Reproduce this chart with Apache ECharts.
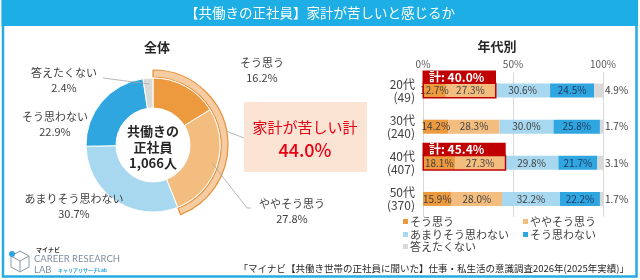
<!DOCTYPE html>
<html>
<head>
<meta charset="utf-8">
<script src="https://cdn.jsdelivr.net/npm/echarts@6/dist/echarts.min.js"></script>
<style>
html,body{margin:0;padding:0;background:#fff;}
#c{width:640px;height:280px;}
</style>
</head>
<body>
<div id="c"></div>
<script>
// ---- data ----
const pieNames = ['そう思う', 'ややそう思う', 'あまりそう思わない', 'そう思わない', '答えたくない'];
const pieValues = [16.2, 27.8, 30.7, 22.9, 2.4];
const totalRespondents = '1,066';
const ageCats = ['20代', '30代', '40代', '50代'];
const ageCounts = ['(49)', '(240)', '(407)', '(370)'];
const soOmou = [12.7, 14.2, 18.1, 15.9];
const yayaSoOmou = [27.3, 28.3, 27.3, 28.0];
const amariSoOmowanai = [30.6, 30.0, 29.8, 32.2];
const soOmowanai = [24.5, 25.8, 21.7, 22.2];
const kotaetakunai = [4.9, 1.7, 3.1, 1.7];
const xTicks = [0, 50, 100];
const highlightRows = ['20代', '40代'];

// ---- styles ----
const FONT = '"Noto Sans CJK JP", "Noto Sans", sans-serif';
const colors = ['#ED9A3E', '#F3BD80', '#A8D8EF', '#2FA6E0', '#D9D9D9'];
const labelColors = ['#404040', '#404040', '#404040', '#1F3B64', '#404040'];
const seriesVals = [soOmou, yayaSoOmou, amariSoOmowanai, soOmowanai, kotaetakunai];
const pieLabelPos = [[262, 70], [292, 211], [74, 206], [55, 124], [64, 80]];
const PC = [153, 145];

const chart = echarts.init(document.getElementById('c'), null, {renderer: 'canvas'});

const kakeiTotal = (pieValues[0] + pieValues[1]).toFixed(1);

const barSeries = seriesVals.map((vals, si) => ({
  type: 'bar',
  name: pieNames[si],
  stack: 'all',
  barWidth: 14,
  data: vals,
  itemStyle: {color: colors[si]},
  label: {
    show: true,
    position: si === 4 ? 'right' : 'inside',
    distance: 2,
    formatter: p => p.value.toFixed(1) + '%',
    color: labelColors[si],
    fontSize: 10,
    fontFamily: FONT
  },
  emphasis: {disabled: true},
  z: 2
}));

const hlData = highlightRows.map(r => {
  const i = ageCats.indexOf(r);
  return [Math.round((soOmou[i] + yayaSoOmou[i]) * 10) / 10, i];
});

const legendPos = [[403, 216], [523, 216], [403, 229], [523, 229], [403, 241]];

const option = {
  backgroundColor: '#ffffff',
  animation: false,
  textStyle: {fontFamily: FONT},
  legend: pieNames.map((n, i) => ({
    data: [n],
    left: legendPos[i][0],
    top: legendPos[i][1],
    padding: 0,
    icon: 'rect',
    itemWidth: 5,
    itemHeight: 5,
    itemGap: 2,
    selectedMode: false,
    textStyle: {fontSize: 11, color: '#404040', fontFamily: FONT, padding: [0, 0, 0, -3]}
  })),
  grid: {left: 423, right: 37, top: 72.5, height: 144.5},
  xAxis: {
    type: 'value', min: xTicks[0], max: xTicks[xTicks.length - 1], interval: xTicks[1] - xTicks[0],
    position: 'top',
    axisLine: {show: false}, axisTick: {show: false},
    axisLabel: {formatter: '{value}%', color: '#595959', fontSize: 10, margin: 3, fontFamily: FONT},
    splitLine: {lineStyle: {color: '#D9D9D9', width: 1}}
  },
  yAxis: {
    type: 'category', inverse: true,
    data: ageCats.map((c, i) => c + '\n' + ageCounts[i]),
    axisLine: {show: false}, axisTick: {show: false},
    axisLabel: {color: '#404040', fontSize: 12, lineHeight: 13, margin: 8, fontFamily: FONT}
  },
  series: [
    {
      type: 'pie', name: 'ring', center: PC, radius: [68, 75], startAngle: 90, clockwise: true,
      silent: true, z: 1,
      label: {show: false}, labelLine: {show: false},
      data: [
        {value: pieValues[0] + pieValues[1], name: '_ring', itemStyle: {color: '#F6CDA2', borderColor: '#E8913A', borderWidth: 1.2}},
        {value: 100 - pieValues[0] - pieValues[1], name: '_rest', itemStyle: {color: 'rgba(0,0,0,0)'}}
      ]
    },
    {
      type: 'pie', name: '全体', center: PC, radius: [37, 67], startAngle: 90, clockwise: true,
      silent: true, z: 2,
      itemStyle: {borderColor: '#fff', borderWidth: 1},
      data: pieNames.map((n, i) => ({name: n, value: pieValues[i], itemStyle: {color: colors[i]}})),
      label: {
        show: true, position: 'outside', overflow: 'none', alignTo: 'none', width: 200,
        formatter: p => p.name + '\n' + p.value.toFixed(1) + '%',
        color: '#404040', fontSize: 11, lineHeight: 15, fontFamily: FONT, align: 'center'
      },
      labelLine: {show: false},
      labelLayout: p => ({x: pieLabelPos[p.dataIndex][0], y: pieLabelPos[p.dataIndex][1], align: 'center', verticalAlign: 'middle'})
    },
    ...barSeries,
    {
      type: 'custom', name: 'hl', coordinateSystem: 'cartesian2d', z: 5, silent: true,
      data: hlData,
      renderItem: (params, api) => {
        const tot = api.value(0), idx = api.value(1);
        const a = api.coord([0, idx]), b = api.coord([tot, idx]);
        const bw = 14;
        const top = a[1] - bw / 2;
        return {type: 'group', children: [
          {type: 'rect', shape: {x: a[0] - 0.5, y: top - 13, width: b[0] - a[0] + 1.5, height: 13}, style: {fill: '#C00000'}},
          {type: 'text', style: {x: a[0] + 6, y: top - 6, text: '計: ' + tot.toFixed(1) + '%', fill: '#fff', font: 'bold 12px ' + FONT, align: 'left', verticalAlign: 'middle'}},
          {type: 'rect', shape: {x: a[0] + 0.25, y: top - 0.25, width: b[0] - a[0] + 0.5, height: bw + 0.5}, style: {fill: 'none', stroke: '#C00000', lineWidth: 1.5}}
        ]};
      }
    }
  ],
  graphic: [
    {type: 'rect', z: -1, shape: {x: 3, y: 1, width: 633.5, height: 275.5}, style: {fill: 'none', stroke: '#29ABE2', lineWidth: 2.5}},
    {type: 'rect', z: 10, shape: {x: 1.5, y: 0, width: 636.5, height: 26}, style: {fill: '#1CAEE4'}},
    {type: 'text', z: 11, style: {x: 320, y: 13, text: '【共働きの正社員】家計が苦しいと感じるか', fill: '#fff', font: '13.5px ' + FONT, align: 'center', verticalAlign: 'middle'}},
    {type: 'text', z: 11, style: {x: 157, y: 47, text: '全体', fill: '#262626', font: 'bold 13px ' + FONT, align: 'center', verticalAlign: 'middle'}},
    {type: 'text', z: 11, style: {x: 497, y: 46, text: '年代別', fill: '#262626', font: 'bold 13px ' + FONT, align: 'center', verticalAlign: 'middle'}},
    {type: 'text', z: 11, style: {x: PC[0], y: PC[1] + 2, text: '共働きの\n正社員\n' + totalRespondents + '人', fill: '#262626', font: 'bold 13px ' + FONT, lineHeight: 16, align: 'center', verticalAlign: 'middle'}},
    // callout
    {type: 'rect', z: 0, shape: {x: 244, y: 102, width: 123, height: 70}, style: {fill: '#FCE4D4'}},
    {type: 'text', z: 11, style: {x: 305, y: 127, text: '家計が苦しい計', fill: '#E60012', font: '15px ' + FONT, align: 'center', verticalAlign: 'middle'}},
    {type: 'text', z: 11, style: {x: 305, y: 150, text: kakeiTotal + '%', fill: '#E60012', font: '500 18px ' + FONT, align: 'center', verticalAlign: 'middle'}},
    {type: 'polyline', z: 11, shape: {points: [[226, 131], [244, 138]]}, style: {stroke: '#A6A6A6', lineWidth: 0.8, fill: null}},
    // leader lines
    {type: 'polyline', z: 11, shape: {points: [[103, 78], [149, 84]]}, style: {stroke: '#A6A6A6', lineWidth: 0.8, fill: null}},
    {type: 'polyline', z: 11, shape: {points: [[212, 163], [247, 208], [251, 208]]}, style: {stroke: '#A6A6A6', lineWidth: 0.8, fill: null}},
    // footer
    {type: 'text', z: 11, style: {x: 629, y: 268, text: '「マイナビ【共働き世帯の正社員に聞いた】仕事・私生活の意識調査2026年(2025年実績)」', fill: '#262626', font: '9.5px ' + FONT, align: 'right', verticalAlign: 'middle'}},
    // logo
    {type: 'polygon', z: 11, shape: {points: [[20, 251], [29, 256], [29, 267], [20, 272], [11, 267], [11, 256]]}, style: {fill: 'none', stroke: '#8C9AA8', lineWidth: 1}},
    {type: 'polyline', z: 11, shape: {points: [[11, 256], [20, 261], [29, 256]]}, style: {fill: null, stroke: '#8C9AA8', lineWidth: 1}},
    {type: 'polyline', z: 11, shape: {points: [[20, 261], [20, 272]]}, style: {fill: null, stroke: '#8C9AA8', lineWidth: 1}},
    {type: 'circle', z: 12, shape: {cx: 12, cy: 254, r: 3}, style: {fill: '#2FA6E0'}},
    {type: 'text', z: 11, style: {x: 36, y: 250, text: 'マイナビ', fill: '#333', font: 'bold 6px ' + FONT, align: 'left', verticalAlign: 'middle'}},
    {type: 'text', z: 11, style: {x: 34, y: 259, text: 'CAREER RESEARCH', fill: '#7F8E9D', font: '9.5px Lato, sans-serif', align: 'left', verticalAlign: 'middle'}},
    {type: 'text', z: 11, style: {x: 34, y: 270, text: 'LAB', fill: '#7F8E9D', font: '9.5px Lato, sans-serif', align: 'left', verticalAlign: 'middle'}},
    {type: 'text', z: 11, style: {x: 58, y: 270, text: 'キャリアリサーチLab', fill: '#2FA6E0', font: 'bold 5px ' + FONT, align: 'left', verticalAlign: 'middle'}}
  ]
};
chart.setOption(option);
</script>
</body>
</html>
